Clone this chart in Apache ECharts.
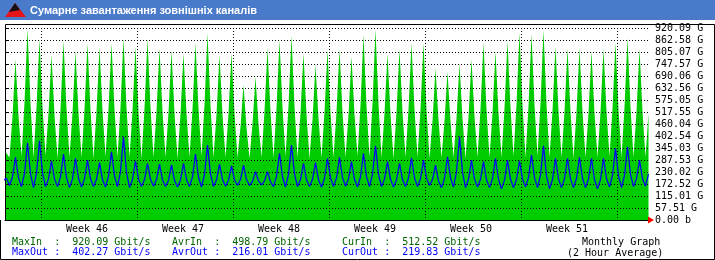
<!DOCTYPE html>
<html><head><meta charset="utf-8">
<script src="https://cdn.jsdelivr.net/npm/echarts@6/dist/echarts.min.js"></script>
<style>html,body{margin:0;padding:0;background:#fff}#c{width:715px;height:260px}</style>
</head><body><div id="c"></div>
<script>
const chartTitle = 'Сумарне завантаження зовнішніх каналів';
const weekNames = ['Week 46', 'Week 47', 'Week 48', 'Week 49', 'Week 50', 'Week 51'];
const weekStartHours = [72, 264, 456, 648, 840, 1032, 1224];
const weekLabelHours = [164, 356, 548, 740, 932, 1124];
const yTickLabels = ['0.00 b', '57.51 G', '115.01 G', '172.52 G', '230.02 G', '287.53 G', '345.03 G',
  '402.54 G', '460.04 G', '517.55 G', '575.05 G', '632.56 G', '690.06 G', '747.57 G', '805.07 G',
  '862.58 G', '920.09 G'];
const yMax = 920.09;
const sampleStartHour = -3;
const sampleStepHours = 6;
const axisEndHour = 1288;

// Gbit/s, one value every 6 hours
const inbound = [330,
  320,300,497,770, 500,305,562,918, 560,300,538,866, 544,310,512,791, 503,295,532,859,
  535,300,513,807, 513,300,530,847, 527,295,519,828, 525,305,533,847, 530,300,539,870,
  539,300,523,830, 520,295,535,866, 538,300,520,823, 520,300,515,811, 512,295,507,799,
  510,300,530,847, 533,305,552,894, 549,300,506,791, 506,300,510,799, 510,300,446,647,
  443,295,460,687, 463,300,520,823, 520,300,536,863, 539,305,547,882, 544,300,510,799,
  507,295,483,743, 486,300,516,815, 516,300,518,818, 518,300,503,783, 506,305,549,887,
  547,300,558,914, 558,300,510,799, 507,295,515,818, 518,300,530,847, 530,300,531,850,
  528,295,476,727, 479,300,473,711, 473,300,488,748, 485,295,495,770, 497,300,531,850,
  531,300,513,807, 513,300,535,859, 538,305,554,898, 551,300,548,891, 551,305,559,910,
  556,300,523,831, 523,300,520,823, 517,295,517,823, 520,300,513,807, 513,300,518,819,
  521,305,534,851, 531,300,540,872, 540,300,519,821,
  519,300,512];
const outbound = [190,
  200,165,206,300, 202,160,223,370, 220,155,223,380, 226,160,197,284, 197,160,207,316,
  203,155,197,296, 199,158,197,287, 198,160,195,275, 193,158,209,327, 210,160,232,399,
  228,155,194,284, 197,160,194,272, 195,162,194,268, 192,160,191,264, 190,158,192,272,
  194,160,207,316, 205,158,218,359, 220,160,192,268, 194,162,191,259, 193,165,194,263,
  194,165,185,232, 187,168,187,232, 182,160,208,319, 206,158,218,359, 220,160,194,272,
  194,160,195,275, 193,158,199,296, 201,160,202,300, 203,162,197,280, 195,158,206,319,
  208,160,219,355, 219,160,196,280, 195,158,192,272, 194,160,201,298, 201,160,198,287,
  202,165,194,263, 187,155,199,303, 202,158,230,399, 228,155,195,287, 197,158,195,280,
  193,155,197,296, 194,150,191,287, 195,155,194,284, 196,158,204,311, 202,155,215,355,
  212,150,194,296, 197,155,197,296, 197,155,199,300, 199,155,197,296, 194,150,194,296,
  199,158,214,343, 211,155,214,351, 217,160,198,287,
  198,162,220];

const statsIn = ['MaxIn  :  920.09 Gbit/s', 'AvrIn  :  498.79 Gbit/s', 'CurIn  :  512.52 Gbit/s'];
const statsOut = ['MaxOut :  402.27 Gbit/s', 'AvrOut :  216.01 Gbit/s', 'CurOut :  219.83 Gbit/s'];
const graphNote = ['Monthly Graph', '(2 Hour Average)'];

const MONO = '"DejaVu Sans Mono", monospace';
const hourOf = i => sampleStartHour + i * sampleStepHours;
const inData = inbound.map((v, i) => [hourOf(i), v]);
const outData = outbound.map((v, i) => [hourOf(i), v]);
const yStep = yMax / 16;
const dotted = { color: '#000', width: 1, type: [1, 2] };

const statX = [12, 172, 342];
const graphics = [
  { type: 'rect', shape: { x: 0, y: 0, width: 715, height: 20 }, style: { fill: '#4a7bcb' }, silent: true },
  { type: 'polygon', shape: { points: [[5, 17], [15, 3], [26, 17]] }, style: { fill: '#e8121a' } },
  { type: 'polygon', shape: { points: [[15, 3], [9, 12], [20, 10]] }, style: { fill: '#111' } },
  { type: 'text', style: { x: 30, y: 10.5, text: chartTitle, fill: '#fff',
      font: 'bold 11px "Liberation Sans", Arial, sans-serif', textVerticalAlign: 'middle' } },
  { type: 'polyline', shape: { points: [[5.5, 220], [5.5, 24.5], [714.5, 24.5], [714.5, 259.5], [0.5, 259.5], [0.5, 220]] },
    style: { stroke: '#000', lineWidth: 1, fill: null } }
];
statsIn.forEach((t, i) => graphics.push({ type: 'text', style: { x: statX[i], y: 242, text: t, fill: '#006400',
  font: '10px ' + MONO, textVerticalAlign: 'middle' } }));
statsOut.forEach((t, i) => graphics.push({ type: 'text', style: { x: statX[i], y: 252.5, text: t, fill: '#0000ff',
  font: '10px ' + MONO, textVerticalAlign: 'middle' } }));
graphics.push({ type: 'text', style: { x: 582, y: 242, text: graphNote[0], fill: '#000', font: '10px ' + MONO, textVerticalAlign: 'middle' } });
graphics.push({ type: 'text', style: { x: 567, y: 253, text: graphNote[1], fill: '#000', font: '10px ' + MONO, textVerticalAlign: 'middle' } });

const chart = echarts.init(document.getElementById('c'), null, { renderer: 'canvas' });
chart.setOption({
  animation: false,
  backgroundColor: '#fff',
  grid: { left: 5, right: 66, top: 28, bottom: 40, containLabel: false },
  xAxis: {
    type: 'value', min: 0, max: axisEndHour, z: 3,
    axisLine: { show: true, onZero: false, lineStyle: { color: '#000', width: 1 } },
    axisTick: { show: false, customValues: weekStartHours },
    splitLine: { show: true, lineStyle: dotted },
    axisLabel: {
      customValues: weekLabelHours, margin: 4, color: '#000', fontFamily: MONO, fontSize: 10,
      formatter: v => weekNames[weekLabelHours.indexOf(v)] || ''
    }
  },
  yAxis: {
    type: 'value', position: 'right', min: 0, max: yMax, interval: yStep, z: 3,
    axisLine: { show: true, lineStyle: { color: '#000', width: 1 } },
    axisTick: { show: true, length: 4, lineStyle: { color: '#000' } },
    splitLine: { show: true, lineStyle: dotted },
    axisLabel: {
      margin: 6, color: '#000', fontFamily: MONO, fontSize: 10,
      formatter: v => yTickLabels[Math.round(v / yStep)]
    }
  },
  series: [
    { type: 'line', data: inData, z: 2, showSymbol: false, smooth: false, sampling: null,
      lineStyle: { width: 0 }, areaStyle: { color: '#00cc00', opacity: 1 }, itemStyle: { color: '#00cc00' } },
    { type: 'line', data: outData, z: 4, showSymbol: false, smooth: false,
      lineStyle: { width: 1.2, color: '#0000ff' }, itemStyle: { color: '#0000ff' },
      markPoint: { symbol: 'triangle', symbolSize: [7, 6], symbolRotate: -90, symbolOffset: [2, 0],
        itemStyle: { color: '#ff0000' }, label: { show: false }, silent: true,
        data: [{ coord: [axisEndHour, 0] }] } }
  ],
  graphic: graphics
});
</script></body></html>
